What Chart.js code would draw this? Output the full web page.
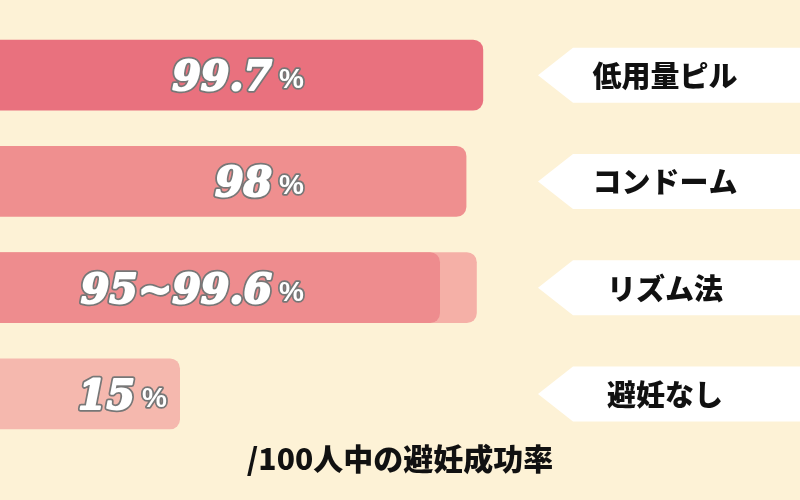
<!DOCTYPE html>
<html>
<head>
<meta charset="utf-8">
<script src="https://cdn.jsdelivr.net/npm/chart.js@4.4.1/dist/chart.umd.min.js"></script>
<style>
  html, body { margin: 0; padding: 0; background: #fdf2d6; }
</style>
</head>
<body>
<canvas id="rateChart" width="800" height="500"></canvas>
<script>
// Methods (top to bottom) and the rate text shown on each bar
const methods = ["低用量ピル", "コンドーム", "リズム法", "避妊なし"];
const rateLabels = ["99.7", "98", "95~99.6", "15"];

// Bar lengths as drawn in the picture (the infographic is not to scale)
const barLengths = [60.4, 58.3, 55.0, 22.5];
const rangeLengths = [null, null, 59.6, null];

const barColors = ["#e9717e", "#ef8f8f", "#ee8c8e", "#f5b8ae"];
const rangeColor = "#f5b0a7";
const footnote = "/100人中の避妊成功率";

// white text with a grey outline; "fat" thickens the white glyph a bit
function outlinedText(ctx, text, x, y, fat) {
    ctx.lineJoin = "round";
    ctx.lineWidth = 3.5 + fat;
    ctx.strokeStyle = "#777777";
    ctx.strokeText(text, x, y);
    if (fat > 0) {
        ctx.lineWidth = fat;
        ctx.strokeStyle = "#ffffff";
        ctx.strokeText(text, x, y);
    }
    ctx.fillStyle = "#ffffff";
    ctx.fillText(text, x, y);
}

const decorPlugin = {
    id: "decor",
    afterDatasetsDraw(chart) {
        const ctx = chart.ctx;
        const xScale = chart.scales.x;
        const meta = chart.getDatasetMeta(0);
        const w = chart.width;

        ctx.save();
        meta.data.forEach((bar, i) => {
            const y = bar.y;

            // value text on the bar
            const pctRight = Math.min(xScale.getPixelForValue(38), bar.x - 13);
            ctx.font = "bold 28px 'Liberation Sans'";
            ctx.textAlign = "right";
            ctx.textBaseline = "alphabetic";
            const pctW = ctx.measureText("%").width;
            outlinedText(ctx, "%", pctRight, y + 13, 0);

            ctx.font = "italic bold 41px 'DejaVu Serif'";
            outlinedText(ctx, rateLabels[i], pctRight - pctW - 7, y + 15, 2);

            // white arrow label on the right
            const tip = w - 262;
            const shoulder = tip + 35;
            const h = 27.5;
            ctx.fillStyle = "#ffffff";
            ctx.beginPath();
            ctx.moveTo(tip, y);
            ctx.lineTo(shoulder, y - h);
            ctx.lineTo(w, y - h);
            ctx.lineTo(w, y + h);
            ctx.lineTo(shoulder, y + h);
            ctx.closePath();
            ctx.fill();

            ctx.fillStyle = "#111111";
            ctx.font = "900 29px 'Noto Sans CJK JP'";
            ctx.textAlign = "center";
            ctx.textBaseline = "middle";
            ctx.fillText(methods[i], w - 135, y + 1);
        });

        // footnote
        ctx.fillStyle = "#111111";
        ctx.font = "900 30px 'Noto Sans CJK JP'";
        ctx.textAlign = "center";
        ctx.textBaseline = "middle";
        ctx.fillText(footnote, w / 2, chart.chartArea.bottom + 12);
        ctx.restore();
    }
};

new Chart(document.getElementById("rateChart"), {
    type: "bar",
    data: {
        labels: methods,
        datasets: [
            {
                data: barLengths,
                backgroundColor: barColors,
                order: 1,
                grouped: false,
                categoryPercentage: 1,
                barPercentage: 0.667,
                borderRadius: 10,
                borderSkipped: "start"
            },
            {
                data: rangeLengths,
                backgroundColor: rangeColor,
                order: 2,
                grouped: false,
                categoryPercentage: 1,
                barPercentage: 0.667,
                borderRadius: 10,
                borderSkipped: "start"
            }
        ]
    },
    options: {
        indexAxis: "y",
        responsive: false,
        animation: false,
        layout: { padding: { top: 22, bottom: 53, left: 0, right: 0 } },
        scales: {
            x: { min: 0, max: 100, display: false },
            y: { display: false }
        },
        plugins: {
            legend: { display: false },
            tooltip: { enabled: false }
        }
    },
    plugins: [decorPlugin]
});
</script>
</body>
</html>
